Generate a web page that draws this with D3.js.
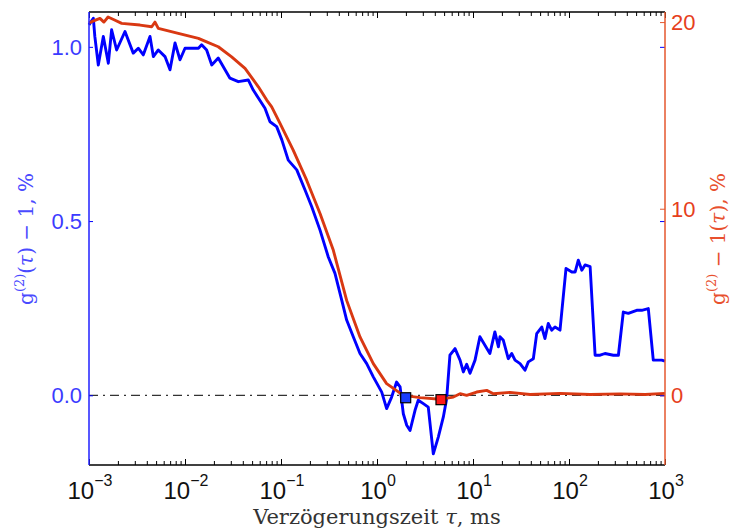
<!DOCTYPE html>
<html>
<head>
<meta charset="utf-8">
<script src="https://cdn.jsdelivr.net/npm/d3@7"></script>
<style>
  body { margin: 0; background: #fff; }
  svg { display: block; }
</style>
</head>
<body>
<svg id="chart" width="732" height="531"></svg>
<script>
// measured curve g2-1 (left axis, %)
var tauBlue = [1.00e-3, 1.11e-3, 1.15e-3, 1.25e-3, 1.41e-3, 1.59e-3, 1.72e-3, 1.94e-3, 2.37e-3, 2.89e-3,
  3.26e-3, 3.68e-3, 4.32e-3, 4.68e-3, 5.27e-3, 6.19e-3, 6.98e-3, 7.87e-3, 8.87e-3, 1.00e-2,
  1.38e-2, 1.49e-2, 1.68e-2, 1.90e-2, 2.22e-2, 2.94e-2, 3.59e-2, 4.56e-2, 5.14e-2, 5.81e-2,
  6.81e-2, 7.68e-2, 9.01e-2, 0.102, 0.119, 0.146, 0.178, 0.209, 0.255, 0.311,
  0.365, 0.429, 0.483, 0.566, 0.665, 0.781, 0.915, 1.12, 1.26, 1.42,
  1.60, 1.74, 1.88, 2.04, 2.21, 2.49, 2.69, 3.04, 3.42, 3.86,
  4.35, 4.91, 5.32, 5.75, 6.50, 7.33, 7.93, 8.59, 9.31, 10.5,
  11.8, 13.9, 15.0, 16.9, 18.4, 19.1, 20.7, 23.3, 25.3, 27.4,
  30.9, 34.8, 37.7, 42.5, 46.1, 52.0, 56.2, 60.8, 66.0, 71.5,
  80.6, 93.1, 107, 116, 125, 136, 147, 166, 187, 211,
  237, 290, 327, 368, 415, 507, 572, 670, 755, 923, 1000];
var gBlue = [1.063, 1.082, 1.030, 0.948, 1.030, 0.953, 1.049, 0.991, 1.044, 0.982,
  0.996, 0.977, 1.030, 0.972, 0.991, 0.972, 0.934, 1.011, 0.963, 0.996,
  0.996, 1.006, 0.991, 0.948, 0.968, 0.910, 0.900, 0.905, 0.876, 0.853,
  0.824, 0.785, 0.771, 0.733, 0.675, 0.647, 0.589, 0.541, 0.474, 0.397,
  0.350, 0.273, 0.216, 0.168, 0.120, 0.091, 0.053, 0.009, -0.038, -0.005,
  0.038, 0.024, -0.053, -0.086, -0.101, -0.043, -0.014, -0.024, -0.034, -0.168,
  -0.120, -0.062, -0.009, 0.115, 0.134, 0.101, 0.067, 0.089, 0.063, 0.101,
  0.168, 0.135, 0.120, 0.182, 0.139, 0.168, 0.158, 0.105, 0.120, 0.101,
  0.091, 0.072, 0.096, 0.105, 0.177, 0.196, 0.163, 0.206, 0.187, 0.196,
  0.187, 0.364, 0.354, 0.354, 0.388, 0.359, 0.374, 0.369, 0.115, 0.115,
  0.120, 0.115, 0.115, 0.239, 0.235, 0.244, 0.244, 0.249, 0.101, 0.101, 0.098];

// model curve g2-1 (right axis, %)
var tauRed = [1.00e-3, 1.10e-3, 1.30e-3, 1.43e-3, 1.58e-3, 1.87e-3, 2.19e-3, 3.40e-3, 4.50e-3, 4.87e-3,
  5.27e-3, 8.51e-3, 1.38e-2, 1.68e-2, 2.22e-2, 3.06e-2, 4.22e-2, 5.81e-2, 7.10e-2, 8.00e-2,
  9.77e-2, 0.134, 0.185, 0.255, 0.351, 0.483, 0.665, 0.915, 1.26, 1.88,
  2.81, 4.53, 6.24, 7.33, 8.59, 10.9, 13.9, 16.3, 24.3, 39.3,
  80.6, 166, 340, 620, 1000];
var gRed = [19.95, 20.05, 20.2, 20.0, 20.27, 20.1, 19.93, 19.84, 19.75, 20.0,
  19.66, 19.39, 19.13, 18.94, 18.68, 18.14, 17.52, 16.53, 15.82, 15.46,
  14.57, 13.14, 11.53, 9.74, 7.77, 5.09, 3.13, 1.70, 0.63, 0.0,
  -0.12, -0.21, -0.09, 0.09, 0.0, 0.18, 0.27, 0.09, 0.16, 0.05,
  0.11, 0.05, 0.08, 0.05, 0.11];

// marked points
var markBlue = [1.99, -0.007];
var markRed = [4.64, -0.23];

var xDomain = [1e-3, 1e3];
var leftDomain = [-0.2, 1.1];
var rightDomain = [-3.73, 20.54];
var leftTicks = [0, 0.5, 1.0];
var rightTicks = [0, 10, 20];
var decades = [-3, -2, -1, 0, 1, 2, 3];

var blue = "#0000ff", red = "#d93812", redAxis = "#e4572e", blueText = "#3b3bff";

var svg = d3.select("#chart");
var x0 = 89, x1 = 665, y0 = 12, y1 = 465;

var x = d3.scaleLog().domain(xDomain).range([x0, x1]);
var yL = d3.scaleLinear().domain(leftDomain).range([y1, y0]);
var yR = d3.scaleLinear().domain(rightDomain).range([y1, y0]);

var allTicks = x.ticks();
var majors = allTicks.filter(function (d) { return Math.abs(Math.log10(d) - Math.round(Math.log10(d))) < 1e-9; });
var minors = allTicks.filter(function (d) { return majors.indexOf(d) < 0; });

// zero line
svg.append("line")
  .attr("x1", x0).attr("x2", x1)
  .attr("y1", yL(0)).attr("y2", yL(0))
  .attr("stroke", "#333").attr("stroke-width", 1.3)
  .attr("stroke-dasharray", "9,5,2,5");

// curves
var lineBlue = d3.line()
  .x(function (d, i) { return x(tauBlue[i]); })
  .y(function (d) { return yL(d); });
var lineRed = d3.line()
  .x(function (d, i) { return x(tauRed[i]); })
  .y(function (d) { return yR(d); });

svg.append("path").datum(gBlue)
  .attr("d", lineBlue)
  .attr("fill", "none").attr("stroke", blue).attr("stroke-width", 2.9)
  .attr("stroke-linejoin", "round");
svg.append("path").datum(gRed)
  .attr("d", lineRed)
  .attr("fill", "none").attr("stroke", red).attr("stroke-width", 2.9)
  .attr("stroke-linejoin", "round");

// square markers
svg.append("rect")
  .attr("x", x(markBlue[0]) - 5).attr("y", yL(markBlue[1]) - 5)
  .attr("width", 10).attr("height", 10)
  .attr("fill", "#1a3cff").attr("stroke", "#000").attr("stroke-width", 1.2);
svg.append("rect")
  .attr("x", x(markRed[0]) - 5).attr("y", yR(markRed[1]) - 5)
  .attr("width", 10).attr("height", 10)
  .attr("fill", "#ff1a1a").attr("stroke", "#000").attr("stroke-width", 1.2);

// x axes (bottom and top), ticks inward
function xAxis(g, axis, vals, size) {
  g.call(axis(x).tickValues(vals).tickSize(size).tickFormat(""));
  g.select(".domain").remove();
  g.selectAll(".tick line").attr("stroke", "#000").attr("stroke-width", 1);
}
svg.append("g").attr("transform", "translate(0," + y1 + ")")
  .call(xAxis, d3.axisBottom, minors, -4);
svg.append("g").attr("transform", "translate(0," + y1 + ")")
  .call(xAxis, d3.axisBottom, majors, -6);
svg.append("g").attr("transform", "translate(0," + y0 + ")")
  .call(xAxis, d3.axisTop, minors, -4);
svg.append("g").attr("transform", "translate(0," + y0 + ")")
  .call(xAxis, d3.axisTop, majors, -6);

svg.append("line").attr("x1", x0).attr("x2", x1).attr("y1", y1).attr("y2", y1)
  .attr("stroke", "#000").attr("stroke-width", 1.3);
svg.append("line").attr("x1", x0).attr("x2", x1).attr("y1", y0).attr("y2", y0)
  .attr("stroke", "#000").attr("stroke-width", 1.3);

// x tick labels 10^n
var xl = svg.append("g").attr("font-family", "Liberation Sans, Arial, sans-serif").attr("fill", "#111");
decades.forEach(function (p) {
  var t = xl.append("text")
    .attr("x", x(Math.pow(10, p)) + 1).attr("y", 499)
    .attr("text-anchor", "middle").attr("font-size", 24);
  t.append("tspan").text("10");
  t.append("tspan").attr("font-size", 16).attr("dy", -13).text(p < 0 ? "\u2212" + (-p) : p);
});

// left axis
var gl = svg.append("g").attr("transform", "translate(" + x0 + ",0)")
  .call(d3.axisRight(yL).tickValues(leftTicks).tickSize(4).tickFormat(""));
gl.select(".domain").remove();
gl.selectAll(".tick line").attr("stroke", blue);
svg.append("line").attr("x1", x0).attr("x2", x0).attr("y1", y0).attr("y2", y1)
  .attr("stroke", "#2020ff").attr("stroke-width", 1.5);
svg.append("g").selectAll("text").data(leftTicks).join("text")
  .attr("x", 82).attr("y", function (d) { return yL(d); })
  .attr("dy", "0.36em").attr("text-anchor", "end")
  .attr("font-family", "Liberation Sans, Arial, sans-serif").attr("font-size", 22)
  .attr("fill", blueText)
  .text(function (d) { return d3.format(".1f")(d); });

// right axis
var gr = svg.append("g").attr("transform", "translate(" + x1 + ",0)")
  .call(d3.axisLeft(yR).tickValues(rightTicks).tickSize(5).tickFormat(""));
gr.select(".domain").remove();
gr.selectAll(".tick line").attr("stroke", redAxis);
var grb = svg.append("g").attr("transform", "translate(" + x1 + ",0)")
  .call(d3.axisLeft(yL).tickValues(leftTicks).tickSize(5).tickFormat(""));
grb.select(".domain").remove();
grb.selectAll(".tick line").attr("stroke", blue);
svg.append("line").attr("x1", x1).attr("x2", x1).attr("y1", y0).attr("y2", y1)
  .attr("stroke", redAxis).attr("stroke-width", 1.5);
svg.append("g").selectAll("text").data(rightTicks).join("text")
  .attr("x", 671).attr("y", function (d) { return yR(d); })
  .attr("dy", "0.36em").attr("text-anchor", "start")
  .attr("font-family", "Liberation Sans, Arial, sans-serif").attr("font-size", 22)
  .attr("fill", "#e6401c")
  .text(function (d) { return d; });

// axis titles
var serif = "DejaVu Serif, Liberation Serif, serif";
var xt = svg.append("text")
  .attr("x", 377).attr("y", 524).attr("text-anchor", "middle")
  .attr("font-family", serif).attr("font-size", 21).attr("fill", "#333");
xt.append("tspan").text("Verzögerungszeit ");
xt.append("tspan").attr("font-style", "italic").text("τ");
xt.append("tspan").text(", ms");

var lt = svg.append("text")
  .attr("transform", "translate(33,239) rotate(-90)")
  .attr("text-anchor", "middle")
  .attr("font-family", serif).attr("font-size", 20).attr("fill", "#4a4aff");
lt.append("tspan").text("g");
lt.append("tspan").attr("font-size", 13).attr("dy", -9).text("(2)");
lt.append("tspan").attr("dy", 9).text("(");
lt.append("tspan").attr("font-style", "italic").text("τ");
lt.append("tspan").text(") \u2212 1, %");

var rt = svg.append("text")
  .attr("transform", "translate(725,239) rotate(-90)")
  .attr("text-anchor", "middle")
  .attr("font-family", serif).attr("font-size", 20).attr("fill", "#e8502e");
rt.append("tspan").text("g");
rt.append("tspan").attr("font-size", 13).attr("dy", -9).text("(2)");
rt.append("tspan").attr("dy", 9).text(" \u2212 1(");
rt.append("tspan").attr("font-style", "italic").text("τ");
rt.append("tspan").text("), %");
</script>
</body>
</html>
